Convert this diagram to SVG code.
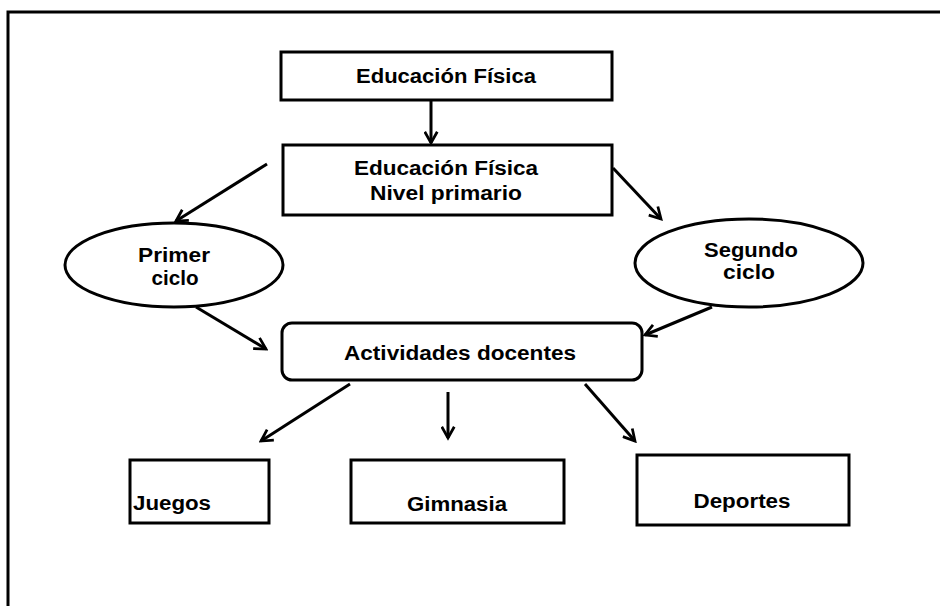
<svg xmlns="http://www.w3.org/2000/svg" width="940" height="606" viewBox="0 0 940 606">
<style>
.box{fill:#fff;stroke:#000;stroke-width:3}
.t{font-family:"Liberation Sans",Arial,sans-serif;font-weight:bold;font-size:20px;fill:#000;text-anchor:middle}
.c{fill:none;stroke:#000;stroke-width:3;marker-end:url(#ah)}
</style>
<defs>
<marker id="ah" viewBox="0 0 12 12" refX="10" refY="6" markerWidth="5" markerHeight="5" orient="auto" markerUnits="strokeWidth">
<path d="M1,1 L10,6 L1,11" fill="none" stroke="#000" stroke-width="2.2"/>
</marker>
</defs>
<rect x="0" y="0" width="940" height="606" fill="#fff"/>
<rect x="8" y="12" width="1000" height="700" fill="none" stroke="#000" stroke-width="3"/>
<g id="n1"><rect class="box" x="281" y="52" width="331" height="48"/><text class="t" x="446" y="83" textLength="180" lengthAdjust="spacingAndGlyphs">Educación Física</text></g>
<g id="n2"><rect class="box" x="283" y="145" width="329" height="70"/><text class="t" x="446" y="175" textLength="184" lengthAdjust="spacingAndGlyphs">Educación Física</text><text class="t" x="446" y="200" textLength="152" lengthAdjust="spacingAndGlyphs">Nivel primario</text></g>
<g id="n3"><ellipse class="box" cx="174" cy="265" rx="109" ry="42"/><text class="t" x="174" y="262" textLength="72" lengthAdjust="spacingAndGlyphs">Primer</text><text class="t" x="175" y="285" textLength="47" lengthAdjust="spacingAndGlyphs">ciclo</text></g>
<g id="n4"><ellipse class="box" cx="749" cy="263" rx="114" ry="44"/><text class="t" x="751" y="257" textLength="94" lengthAdjust="spacingAndGlyphs">Segundo</text><text class="t" x="749" y="279" textLength="52" lengthAdjust="spacingAndGlyphs">ciclo</text></g>
<g id="n5"><rect class="box" x="282" y="323" width="360" height="57" rx="10"/><text class="t" x="460" y="360" textLength="232" lengthAdjust="spacingAndGlyphs">Actividades docentes</text></g>
<g id="n6"><rect class="box" x="130" y="460" width="139" height="63"/><text class="t" x="172" y="510" textLength="78" lengthAdjust="spacingAndGlyphs">Juegos</text></g>
<g id="n7"><rect class="box" x="351" y="460" width="213" height="63"/><text class="t" x="457" y="511" textLength="100" lengthAdjust="spacingAndGlyphs">Gimnasia</text></g>
<g id="n8"><rect class="box" x="637" y="455" width="212" height="70"/><text class="t" x="742" y="508" textLength="97" lengthAdjust="spacingAndGlyphs">Deportes</text></g>
<g id="connectors">
<line class="c" x1="431" y1="101" x2="431" y2="143"/>
<line class="c" x1="267" y1="164" x2="176" y2="221"/>
<line class="c" x1="613" y1="168" x2="661" y2="219"/>
<line class="c" x1="196" y1="307" x2="266" y2="349"/>
<line class="c" x1="712" y1="307" x2="645" y2="335"/>
<line class="c" x1="350" y1="384" x2="261" y2="441"/>
<line class="c" x1="448" y1="392" x2="448" y2="438"/>
<line class="c" x1="585" y1="384" x2="635" y2="441"/>
</g>
</svg>
